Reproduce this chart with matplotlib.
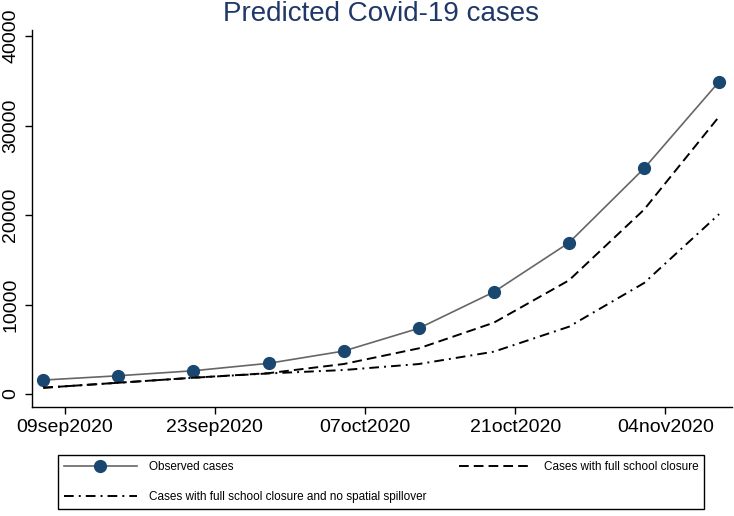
import numpy as np
import matplotlib
matplotlib.use('Agg')
import matplotlib.pyplot as plt

plt.rcParams['font.family'] = ['Liberation Sans', 'DejaVu Sans']

# weekly observations (date strings) and the three series
dates = np.array(['2020-09-07', '2020-09-14', '2020-09-21', '2020-09-28', '2020-10-05',
                  '2020-10-12', '2020-10-19', '2020-10-26', '2020-11-02', '2020-11-09'],
                 dtype='datetime64[D]')
observed = [1560, 2040, 2600, 3430, 4800, 7340, 11400, 16900, 25200, 34900]
closure = [700, 1260, 1820, 2330, 3350, 5100, 7970, 12700, 20600, 31000]
closure_nospill = [700, 1260, 1820, 2300, 2680, 3350, 4730, 7520, 12400, 20100]

tick_dates = np.array(['2020-09-09', '2020-09-23', '2020-10-07', '2020-10-21', '2020-11-04'],
                      dtype='datetime64[D]')
tick_labels = ['09sep2020', '23sep2020', '07oct2020', '21oct2020', '04nov2020']
yticks = [0, 10000, 20000, 30000, 40000]

navy = '#1a476f'

fig = plt.figure(figsize=(7.34, 5.16), dpi=100)
ax = fig.add_axes([32/734, 1-407/516, 700/734, 377/516])

# days since first tick as x
x0 = tick_dates[0]
xd = (dates - x0).astype(float)
xt = (tick_dates - x0).astype(float)

l1, = ax.plot(xd, observed, color='#666666', lw=1.2, marker='o', markersize=8.5,
              markerfacecolor=navy, markeredgecolor=navy, label='Observed cases')
l2, = ax.plot(xd, closure, color='black', lw=1.4, dashes=(5, 2.6),
              label='Cases with full school closure')
l3, = ax.plot(xd, closure_nospill, color='black', lw=1.4, dashes=(5, 2.6, 1, 2.6),
              label='Cases with full school closure and no spatial spillover')

ax.set_xlim(-3.05, 62.2)
ax.set_ylim(-1450, 40670)
ax.set_xticks(xt)
ax.set_xticklabels(tick_labels, fontsize=14)
ax.set_yticks(yticks)
ax.set_yticklabels([str(v) for v in yticks], fontsize=14, rotation=90, va='center')
ax.tick_params(direction='out', length=5, width=1, colors='black', pad=4)
for s in ['top', 'right']:
    ax.spines[s].set_visible(False)
for s in ['left', 'bottom']:
    ax.spines[s].set_linewidth(1)

fig.text(381/734, 1-21/516, 'Predicted Covid-19 cases', ha='center', va='baseline',
         fontsize=20, color='#1f3868')

leg = fig.legend(handles=[l1, l3, l2], ncol=2, mode='expand',
                 bbox_to_anchor=(52/734, 1-513/516, 658/734, 62/516), loc='center',
                 fontsize=8.5, handlelength=6.2, handletextpad=1.0, frameon=True,
                 fancybox=False, edgecolor='black', framealpha=1, borderpad=0.5,
                 labelspacing=1.5)
leg.get_frame().set_linewidth(1)

fig.savefig('out.png', dpi=100)
